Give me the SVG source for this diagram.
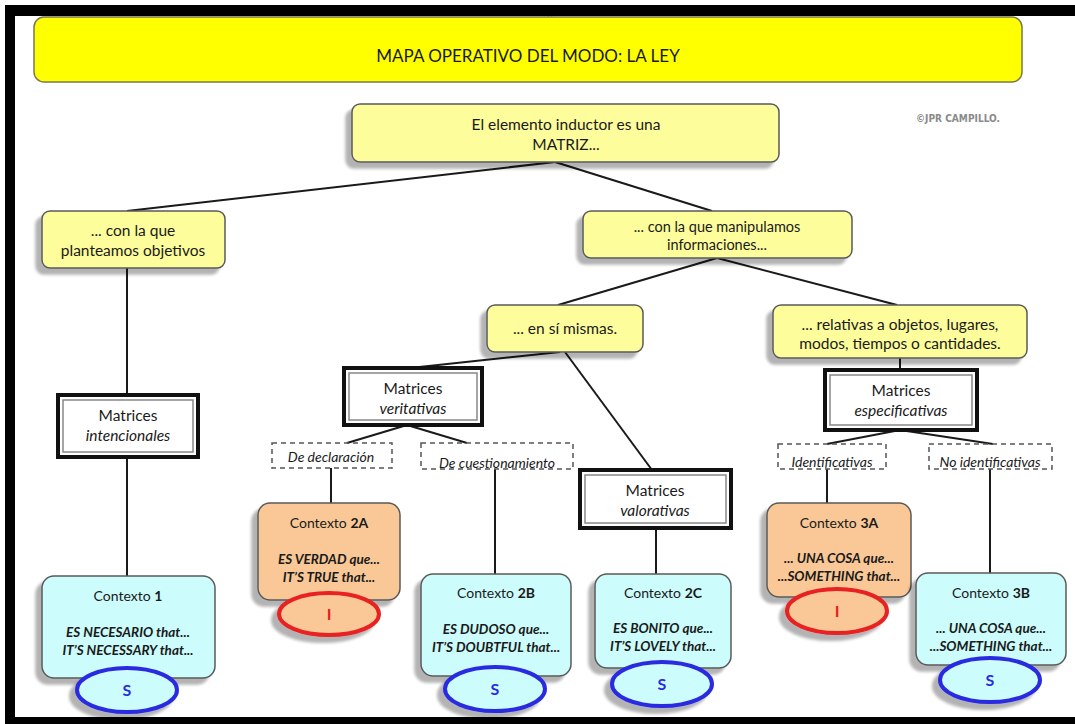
<svg xmlns="http://www.w3.org/2000/svg" width="1075" height="724" viewBox="0 0 1075 724">
<style>
text{font-family:Lato,"Open Sans","Liberation Sans",sans-serif;fill:#1a1a1a;text-anchor:middle}
.yel{fill:#fdfd9c;stroke:#5a5a5a;stroke-width:1.5}
.cyan{fill:#cdfcfc;stroke:#5a5a5a;stroke-width:1.5}
.org{fill:#f9c896;stroke:#5a5a5a;stroke-width:1.5}
.mo{fill:#fff;stroke:#111;stroke-width:4}
.mi{fill:none;stroke:#888;stroke-width:1.5}
.dash{fill:none;stroke:#555;stroke-width:1.5;stroke-dasharray:5 4}
.t15{font-size:15.5px}
.t14{font-size:14.5px}
.tm{font-size:15.5px}
.td{font-size:14px;font-style:italic}
.tc{font-size:14px}
.it{font-style:italic}
.bi{font-style:italic;font-weight:bold;font-size:13.5px}
.es{stroke:#2a2ae0;stroke-width:4;fill:#cdfcfc}
.ei{stroke:#e82020;stroke-width:4;fill:#f9c896}
.ls{font-size:16px;font-weight:bold;fill:#2a2ae0}
.li{font-size:16px;font-weight:bold;fill:#e82020}
.conn line{stroke:#1a1a1a;stroke-width:2}
</style>
<defs>
<filter id="sh" x="-20%" y="-20%" width="140%" height="150%">
<feGaussianBlur in="SourceAlpha" stdDeviation="1.5"/>
<feOffset dx="-6" dy="6" result="o"/>
<feComponentTransfer><feFuncA type="linear" slope="0.3"/></feComponentTransfer>
<feMerge><feMergeNode/><feMergeNode in="SourceGraphic"/></feMerge>
</filter>
<clipPath id="c1"><rect x="272" y="443" width="120" height="25"/></clipPath>
<clipPath id="c2"><rect x="421" y="443" width="152" height="25"/></clipPath>
<clipPath id="c3"><rect x="778" y="444" width="108" height="24"/></clipPath>
<clipPath id="c4"><rect x="929" y="444" width="123" height="24"/></clipPath>
</defs>
<rect x="0" y="0" width="1075" height="724" fill="#fff"/>
<!-- frame -->
<rect x="5" y="5" width="1070" height="11" fill="#000"/>
<rect x="5" y="5" width="10" height="719" fill="#000"/>
<rect x="5" y="717" width="1070" height="7" fill="#000"/>
<path d="M548 16 L550 20 L552 16" fill="none" stroke="#888" stroke-width="1"/>

<g id="title">
<rect x="34" y="17" width="988" height="65" rx="10" fill="#ffff00" stroke="#7a7a50" stroke-width="1.5"/>
<text x="528" y="62" style="font-size:17px">MAPA OPERATIVO DEL MODO: LA LEY</text>
</g>
<text x="958" y="122" style="font-family:'DejaVu Sans Condensed','DejaVu Sans',sans-serif;font-weight:bold;font-size:10px;fill:#8a8a8a" textLength="84" lengthAdjust="spacingAndGlyphs">©JPR CAMPILLO.</text>

<g class="conn">
<line x1="555" y1="162" x2="127" y2="211"/>
<line x1="555" y1="162" x2="712" y2="211"/>
<line x1="127" y1="268" x2="127" y2="395"/>
<line x1="127" y1="457" x2="127" y2="576"/>
<line x1="717" y1="258" x2="558" y2="305"/>
<line x1="717" y1="258" x2="897" y2="305"/>
<line x1="560" y1="352" x2="410" y2="368"/>
<line x1="565" y1="352" x2="652" y2="470"/>
<line x1="407" y1="425" x2="347" y2="443"/>
<line x1="407" y1="425" x2="467" y2="443"/>
<line x1="331" y1="468" x2="331" y2="503"/>
<line x1="495" y1="469" x2="495" y2="574"/>
<line x1="656" y1="528" x2="656" y2="574"/>
<line x1="900" y1="358" x2="900" y2="370"/>
<line x1="900" y1="430" x2="827" y2="444"/>
<line x1="900" y1="430" x2="993" y2="444"/>
<line x1="827" y1="469" x2="827" y2="503"/>
<line x1="990" y1="469" x2="990" y2="573"/>
</g>

<g id="root">
<rect class="yel" x="352" y="104" width="427" height="58" rx="8" filter="url(#sh)"/>
<text class="t15" x="566" y="130">El elemento inductor es una</text>
<text class="t15" x="566" y="150">MATRIZ...</text>
</g>
<g id="objetivos">
<rect class="yel" x="42" y="211" width="183" height="57" rx="8" filter="url(#sh)"/>
<text class="t15" x="133" y="236">... con la que</text>
<text class="t15" x="133" y="256">planteamos objetivos</text>
</g>
<g id="informaciones">
<rect class="yel" x="583" y="211" width="269" height="47" rx="8" filter="url(#sh)"/>
<text class="t14" x="717" y="232">... con la que manipulamos</text>
<text class="t14" x="717" y="250">informaciones...</text>
</g>
<g id="ensi">
<rect class="yel" x="487" y="305" width="156" height="47" rx="8" filter="url(#sh)"/>
<text class="t15" x="565" y="334">... en sí mismas.</text>
</g>
<g id="relativas">
<rect class="yel" x="773" y="305" width="254" height="53" rx="8" filter="url(#sh)"/>
<text class="t15" x="900" y="330">... relativas a objetos, lugares,</text>
<text class="t15" x="900" y="349">modos, tiempos o cantidades.</text>
</g>

<g id="m-intencionales">
<rect class="mo" x="58" y="395" width="140" height="62"/>
<rect class="mi" x="63" y="400" width="130" height="52"/>
<text class="tm" x="128" y="421">Matrices</text>
<text class="tm it" x="128" y="441">intencionales</text>
</g>
<g id="m-veritativas">
<rect class="mo" x="344" y="368" width="138" height="57"/>
<rect class="mi" x="349" y="373" width="128" height="47"/>
<text class="tm" x="413" y="394">Matrices</text>
<text class="tm it" x="413" y="414">veritativas</text>
</g>
<g id="m-valorativas">
<rect class="mo" x="580" y="470" width="151" height="58"/>
<rect class="mi" x="585" y="475" width="141" height="48"/>
<text class="tm" x="655" y="496">Matrices</text>
<text class="tm it" x="655" y="516">valorativas</text>
</g>
<g id="m-especificativas">
<rect class="mo" x="825" y="370" width="152" height="60"/>
<rect class="mi" x="830" y="375" width="142" height="50"/>
<text class="tm" x="901" y="396">Matrices</text>
<text class="tm it" x="901" y="416">especificativas</text>
</g>

<g id="d-declaracion">
<text class="td" x="331" y="462" clip-path="url(#c1)">De declaración</text>
<rect class="dash" x="272" y="443" width="120" height="25"/>
</g>
<g id="d-cuestionamiento">
<text class="td" x="497" y="468" clip-path="url(#c2)">De cuestionamiento</text>
<rect class="dash" x="421" y="443" width="152" height="26"/>
</g>
<g id="d-identificativas">
<text class="td" x="832" y="467" clip-path="url(#c3)">Identificativas</text>
<rect class="dash" x="778" y="444" width="108" height="25"/>
</g>
<g id="d-noidentificativas">
<text class="td" x="990" y="467" clip-path="url(#c4)">No identificativas</text>
<rect class="dash" x="929" y="444" width="123" height="25"/>
</g>

<g id="ctx1">
<rect class="cyan" x="42" y="576" width="173" height="102" rx="12" filter="url(#sh)"/>
<text class="tc" x="128" y="601">Contexto <tspan font-weight="bold">1</tspan></text>
<text class="bi" x="128" y="637">ES NECESARIO that...</text>
<text class="bi" x="128" y="655">IT’S NECESSARY that...</text>
<ellipse class="es" cx="127" cy="690" rx="50" ry="22" filter="url(#sh)"/>
<text class="ls" x="127" y="696">S</text>
</g>
<g id="ctx2a">
<rect class="org" x="258" y="503" width="142" height="97" rx="12" filter="url(#sh)"/>
<text class="tc" x="329" y="528">Contexto <tspan font-weight="bold">2A</tspan></text>
<text class="bi" x="329" y="564">ES VERDAD que...</text>
<text class="bi" x="329" y="582">IT’S TRUE that...</text>
<ellipse class="ei" cx="329" cy="614" rx="50" ry="21" filter="url(#sh)"/>
<text class="li" x="329" y="620">I</text>
</g>
<g id="ctx2b">
<rect class="cyan" x="421" y="574" width="150" height="102" rx="12" filter="url(#sh)"/>
<text class="tc" x="496" y="598">Contexto <tspan font-weight="bold">2B</tspan></text>
<text class="bi" x="496" y="634">ES DUDOSO que...</text>
<text class="bi" x="496" y="652">IT’S DOUBTFUL that...</text>
<ellipse class="es" cx="495" cy="689" rx="50" ry="22" filter="url(#sh)"/>
<text class="ls" x="495" y="695">S</text>
</g>
<g id="ctx2c">
<rect class="cyan" x="595" y="574" width="136" height="94" rx="12" filter="url(#sh)"/>
<text class="tc" x="663" y="598">Contexto <tspan font-weight="bold">2C</tspan></text>
<text class="bi" x="663" y="633">ES BONITO que...</text>
<text class="bi" x="663" y="651">IT’S LOVELY that...</text>
<ellipse class="es" cx="662" cy="684" rx="50" ry="22" filter="url(#sh)"/>
<text class="ls" x="662" y="690">S</text>
</g>
<g id="ctx3a">
<rect class="org" x="767" y="503" width="144" height="94" rx="12" filter="url(#sh)"/>
<text class="tc" x="839" y="528">Contexto <tspan font-weight="bold">3A</tspan></text>
<text class="bi" x="839" y="563">... UNA COSA que...</text>
<text class="bi" x="839" y="581">...SOMETHING that...</text>
<ellipse class="ei" cx="837" cy="611" rx="50" ry="22" filter="url(#sh)"/>
<text class="li" x="837" y="617">I</text>
</g>
<g id="ctx3b">
<rect class="cyan" x="916" y="573" width="150" height="92" rx="12" filter="url(#sh)"/>
<text class="tc" x="991" y="598">Contexto <tspan font-weight="bold">3B</tspan></text>
<text class="bi" x="991" y="633">... UNA COSA que...</text>
<text class="bi" x="991" y="651">...SOMETHING that...</text>
<ellipse class="es" cx="990" cy="680" rx="50" ry="22" filter="url(#sh)"/>
<text class="ls" x="990" y="686">S</text>
</g>
</svg>
